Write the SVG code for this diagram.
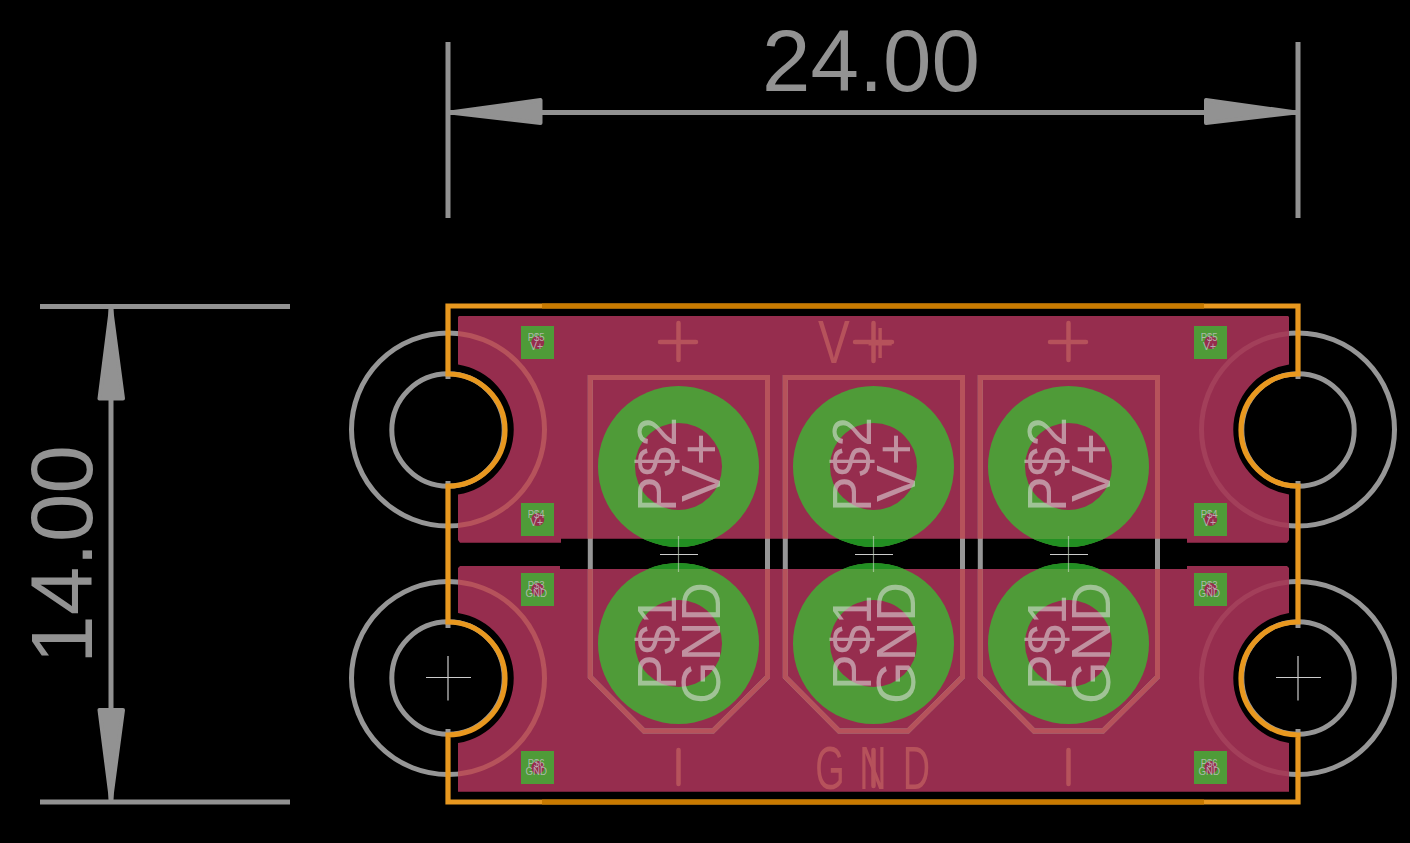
<svg xmlns="http://www.w3.org/2000/svg" width="1410" height="843" viewBox="0 0 1410 843">
<style>
text{font-family:"Liberation Sans",Arial,sans-serif}
.dim{stroke:#929292;stroke-width:5;fill:none}
.arrow{fill:#929292;stroke:#929292;stroke-width:4;stroke-linejoin:round}
.dimt{fill:#929292;font-size:87px}
.copper{fill:#962d4e}
.gl{fill:none;stroke:#969696;stroke-width:5}
.pk{fill:none;stroke:#b6525b;stroke-width:5}
.dk{fill:none;stroke:#a33f5a;stroke-width:5}
.silk{fill:none;stroke:#b6525b;stroke-width:4.5;stroke-linecap:round}
.silkt{fill:#b6525b;font-size:61px}
.ring{fill:#4f9b38}
.ringd{fill:#228f22}
.hole{fill:#962d4e}
.big{fill:#e4e4e4;fill-opacity:.55;font-size:55px}
.small{fill:#c0c0c0;fill-opacity:.85;font-size:11.5px}
.cross{stroke:#ccc;stroke-width:1.2;fill:none}
.crossg{stroke:#cfe0c8;stroke-opacity:.6;stroke-width:1.2;fill:none}
.pad{fill:#4f9b38}
.edge{fill:none;stroke:#e8981f;stroke-width:5.2;stroke-linejoin:miter}
.edged{fill:none;stroke:#c87a00;stroke-width:5.2}
</style>
<defs>
<path id="cu" d="M459,316H1288L1289,317V364.5A65.77,65.77 0 0 0 1289,494.5V540L1287,542.7H1187V538.7H561V542.7H460L458,540V494.5A65.77,65.77 0 0 0 458,364.5V317ZM460,566H560V569H1187V566H1287L1289,568V613A65.77,65.77 0 0 0 1289,743V791.7H458V743A65.77,65.77 0 0 0 458,613V568Z"/>
<clipPath id="cuclip"><use href="#cu"/></clipPath>
<clipPath id="gap"><rect x="560" y="539" width="630" height="30"/></clipPath>
<path id="pkg" d="M590.3,377.5H767.5V677L713,731H644L590.3,677Z"/>
</defs>
<rect width="1410" height="843" fill="#000"/>

<g id="holes">
<circle class="gl" cx="448" cy="429.5" r="96.5"/>
<circle class="gl" cx="448" cy="678" r="96.5"/>
<circle class="gl" cx="1298" cy="429.5" r="96.5"/>
<circle class="gl" cx="1298" cy="678" r="96.5"/>
<circle class="gl" cx="448" cy="430" r="56.2"/>
<circle class="gl" cx="448" cy="678" r="56.2"/>
<circle class="gl" cx="1298" cy="430" r="56.2"/>
<circle class="gl" cx="1298" cy="678" r="56.2"/>
<path class="cross" d="M426,677.5H471M448,656V700.5M1276,677.5H1321M1298,656V700.5"/>
</g>

<g id="copper">
<use href="#cu" class="copper"/>
<g clip-path="url(#cuclip)">
<circle class="pk" cx="448" cy="429.5" r="96.5"/>
<circle class="pk" cx="448" cy="678" r="96.5"/>
<circle class="dk" cx="1298" cy="429.5" r="96.5"/>
<circle class="dk" cx="1298" cy="678" r="96.5"/>
</g>
</g>

<g id="package-outlines">
<use href="#pkg" class="gl"/>
<use href="#pkg" class="gl" x="195"/>
<use href="#pkg" class="gl" x="390"/>
<g clip-path="url(#cuclip)">
<use href="#pkg" class="pk"/>
<use href="#pkg" class="pk" x="195"/>
<use href="#pkg" class="pk" x="390"/>
</g>
</g>

<g id="silk">
<path class="silk" d="M660,342H696M678.5,323V360M855,342H892M873.5,323V361M1050,342H1086M1068.5,323V360M678.5,750V784M873.5,750V786M1068.5,750V784"/>
<text class="silkt" transform="translate(818,363) scale(.78,1)" x="0">V<tspan x="62">+</tspan></text>
<text class="silkt" transform="translate(0,789) scale(.62,1)" x="1315 1386 1456">GND</text>
</g>

<g id="pads-large">
<g id="pad-v1"><circle class="ring" cx="678.5" cy="466.5" r="80.5"/><circle class="hole" cx="678.5" cy="466.5" r="43.5"/></g>
<g id="pad-g1"><circle class="ring" cx="678.5" cy="643.5" r="80.5"/><circle class="hole" cx="678.5" cy="643.5" r="43.5"/></g>
<g id="pad-v2"><circle class="ring" cx="873.5" cy="466.5" r="80.5"/><circle class="hole" cx="873.5" cy="466.5" r="43.5"/></g>
<g id="pad-g2"><circle class="ring" cx="873.5" cy="643.5" r="80.5"/><circle class="hole" cx="873.5" cy="643.5" r="43.5"/></g>
<g id="pad-v3"><circle class="ring" cx="1068.5" cy="466.5" r="80.5"/><circle class="hole" cx="1068.5" cy="466.5" r="43.5"/></g>
<g id="pad-g3"><circle class="ring" cx="1068.5" cy="643.5" r="80.5"/><circle class="hole" cx="1068.5" cy="643.5" r="43.5"/></g>
<g clip-path="url(#gap)">
<circle class="ringd" cx="678.5" cy="466.5" r="80.5"/><circle class="ringd" cx="678.5" cy="643.5" r="80.5"/>
<circle class="ringd" cx="873.5" cy="466.5" r="80.5"/><circle class="ringd" cx="873.5" cy="643.5" r="80.5"/>
<circle class="ringd" cx="1068.5" cy="466.5" r="80.5"/><circle class="ringd" cx="1068.5" cy="643.5" r="80.5"/>
</g>
<path class="cross" d="M660,554.5H698M855,554.5H893M1050,554.5H1088"/>
<path class="crossg" d="M678.5,536V572M873.5,536V572M1068.5,536V572"/>
<g id="big-labels">
<text class="big" transform="translate(676,512) rotate(-90)" textLength="95" lengthAdjust="spacingAndGlyphs">P$2</text>
<text class="big" transform="translate(720,502) rotate(-90)" textLength="69" lengthAdjust="spacingAndGlyphs">V+</text>
<text class="big" transform="translate(676,690) rotate(-90)" textLength="95" lengthAdjust="spacingAndGlyphs">P$1</text>
<text class="big" transform="translate(720,704) rotate(-90)" textLength="122" lengthAdjust="spacingAndGlyphs">GND</text>
<text class="big" transform="translate(871,512) rotate(-90)" textLength="95" lengthAdjust="spacingAndGlyphs">P$2</text>
<text class="big" transform="translate(915,502) rotate(-90)" textLength="69" lengthAdjust="spacingAndGlyphs">V+</text>
<text class="big" transform="translate(871,690) rotate(-90)" textLength="95" lengthAdjust="spacingAndGlyphs">P$1</text>
<text class="big" transform="translate(915,704) rotate(-90)" textLength="122" lengthAdjust="spacingAndGlyphs">GND</text>
<text class="big" transform="translate(1066,512) rotate(-90)" textLength="95" lengthAdjust="spacingAndGlyphs">P$2</text>
<text class="big" transform="translate(1110,502) rotate(-90)" textLength="69" lengthAdjust="spacingAndGlyphs">V+</text>
<text class="big" transform="translate(1066,690) rotate(-90)" textLength="95" lengthAdjust="spacingAndGlyphs">P$1</text>
<text class="big" transform="translate(1110,704) rotate(-90)" textLength="122" lengthAdjust="spacingAndGlyphs">GND</text>
</g>
</g>

<g id="pads-small">
<g id="p5l"><rect class="pad" x="521" y="326" width="33" height="33"/><circle class="hole" cx="537.7" cy="342.5" r="6.5"/><text class="small" x="527.7" y="341" textLength="17" lengthAdjust="spacingAndGlyphs">P$5</text><text class="small" x="530" y="349.5" textLength="13" lengthAdjust="spacingAndGlyphs">V+</text></g>
<g id="p4l"><rect class="pad" x="521" y="503" width="33" height="33"/><circle class="hole" cx="537.7" cy="519.5" r="6.5"/><text class="small" x="527.7" y="518" textLength="17" lengthAdjust="spacingAndGlyphs">P$4</text><text class="small" x="530" y="526" textLength="13" lengthAdjust="spacingAndGlyphs">V+</text></g>
<g id="p3l"><rect class="pad" x="521" y="573" width="33" height="33"/><circle class="hole" cx="537.7" cy="589.5" r="6.5"/><text class="small" x="527.7" y="588.5" textLength="17" lengthAdjust="spacingAndGlyphs">P$3</text><text class="small" x="525.5" y="597" textLength="21.5" lengthAdjust="spacingAndGlyphs">GND</text></g>
<g id="p6l"><rect class="pad" x="521" y="751" width="33" height="33"/><circle class="hole" cx="537.7" cy="767.5" r="6.5"/><text class="small" x="527.7" y="766.5" textLength="17" lengthAdjust="spacingAndGlyphs">P$6</text><text class="small" x="525.5" y="775" textLength="21.5" lengthAdjust="spacingAndGlyphs">GND</text></g>
<g id="p5r"><rect class="pad" x="1194" y="326" width="33" height="33"/><circle class="hole" cx="1210.7" cy="342.5" r="6.5"/><text class="small" x="1200.7" y="341" textLength="17" lengthAdjust="spacingAndGlyphs">P$5</text><text class="small" x="1203" y="349.5" textLength="13" lengthAdjust="spacingAndGlyphs">V+</text></g>
<g id="p4r"><rect class="pad" x="1194" y="503" width="33" height="33"/><circle class="hole" cx="1210.7" cy="519.5" r="6.5"/><text class="small" x="1200.7" y="518" textLength="17" lengthAdjust="spacingAndGlyphs">P$4</text><text class="small" x="1203" y="526" textLength="13" lengthAdjust="spacingAndGlyphs">V+</text></g>
<g id="p3r"><rect class="pad" x="1194" y="573" width="33" height="33"/><circle class="hole" cx="1210.7" cy="589.5" r="6.5"/><text class="small" x="1200.7" y="588.5" textLength="17" lengthAdjust="spacingAndGlyphs">P$3</text><text class="small" x="1198.5" y="597" textLength="21.5" lengthAdjust="spacingAndGlyphs">GND</text></g>
<g id="p6r"><rect class="pad" x="1194" y="751" width="33" height="33"/><circle class="hole" cx="1210.7" cy="767.5" r="6.5"/><text class="small" x="1200.7" y="766.5" textLength="17" lengthAdjust="spacingAndGlyphs">P$6</text><text class="small" x="1198.5" y="775" textLength="21.5" lengthAdjust="spacingAndGlyphs">GND</text></g>
</g>

<g id="board-edge">
<path class="gl" d="M448,372V379M448,481V485M448,622V628M448,729V734M1298,372V379M1298,481V485M1298,622V628M1298,729V734" stroke-width="4"/>
<path class="edge" d="M448,374V306H1298V374A57,56 0 0 0 1298,486V622A57,56.5 0 0 0 1298,735V802H448V735A57,56.5 0 0 0 448,622V486A57,56 0 0 0 448,374Z"/>
<path class="edged" d="M542,306H1204M542,802H1204"/>
</g>

<g id="dimensions">
<path class="dim" d="M448,42V218M1298,42V218M40,306.5H290M40,802H290"/>
<path class="dim" d="M448,112.5H1298M111,306V802"/>
<path class="arrow" d="M450,112.5L540.5,100V123ZM1296,112.5L1206,100V123ZM111,308L99.5,398.5H123ZM111,800L99.5,710H123Z"/>
<text class="dimt" x="762" y="91" textLength="218" lengthAdjust="spacingAndGlyphs">24.00</text>
<text class="dimt" transform="translate(92,664) rotate(-90)" textLength="219" lengthAdjust="spacingAndGlyphs">14.00</text>
</g>
</svg>
